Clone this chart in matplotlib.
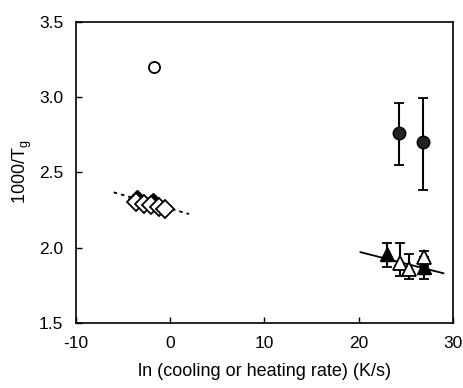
import matplotlib
matplotlib.use("Agg")
import matplotlib.pyplot as plt
import numpy as np

plt.rcParams['font.family'] = ['Liberation Sans', 'DejaVu Sans']
plt.rcParams['axes.unicode_minus'] = False

# Data
open_circle_x = [-1.7]
open_circle_y = [3.20]

filled_circle_x = [24.3, 26.8]
filled_circle_y = [2.76, 2.70]
filled_circle_err_lo = [0.215, 0.315]
filled_circle_err_hi = [0.20, 0.29]

filled_diamond_x = [-3.5, -1.8]
filled_diamond_y = [2.325, 2.305]
open_diamond_x = [-3.6, -2.8, -2.0, -1.2, -0.5]
open_diamond_y = [2.30, 2.29, 2.28, 2.27, 2.255]

filled_tri_x = [23.0, 26.9]
filled_tri_y = [1.96, 1.87]
filled_tri_err_lo = [0.09, 0.08]
filled_tri_err_hi = [0.07, 0.07]
open_tri_x = [24.4, 25.4, 26.9]
open_tri_y = [1.90, 1.86, 1.94]
open_tri_err_lo = [0.09, 0.07, 0.06]
open_tri_err_hi = [0.13, 0.10, 0.035]

dotted_fit_x = [-6.0, 2.0]
dotted_fit_y = [2.367, 2.223]
solid_fit_x = [20.2, 29.0]
solid_fit_y = [1.97, 1.83]

xticks = [-10, 0, 10, 20, 30]
yticks = [1.5, 2.0, 2.5, 3.0, 3.5]

fig = plt.figure(figsize=(4.63, 3.88), dpi=100)
ax = fig.add_axes([0.164, 0.1675, 0.814, 0.777])

ax.plot(dotted_fit_x, dotted_fit_y, color='black', lw=1.3, ls=(0, (2, 2.2)), zorder=2)
ax.plot(solid_fit_x, solid_fit_y, color='black', lw=1.3, ls='-', zorder=2)

ax.plot(open_circle_x, open_circle_y, 'o', ms=8, mfc='white', mec='black', mew=1.3, zorder=3)

ax.errorbar(filled_circle_x, filled_circle_y, yerr=[filled_circle_err_lo, filled_circle_err_hi],
            fmt='o', ms=9, mfc='#222222', mec='black', ecolor='black', elinewidth=1.5,
            capsize=3.6, capthick=1.3, zorder=3)

ax.plot(filled_diamond_x, filled_diamond_y, 'D', ms=9, mfc='black', mec='black', zorder=3)
ax.plot(open_diamond_x, open_diamond_y, 'D', ms=9, mfc='white', mec='black', mew=1.3, zorder=4)

ax.errorbar(filled_tri_x, filled_tri_y, yerr=[filled_tri_err_lo, filled_tri_err_hi],
            fmt='^', ms=10, mfc='black', mec='black', ecolor='black', elinewidth=1.5,
            capsize=3.6, capthick=1.3, zorder=3)
ax.errorbar(open_tri_x, open_tri_y, yerr=[open_tri_err_lo, open_tri_err_hi],
            fmt='^', ms=10, mfc='white', mec='black', mew=1.3, ecolor='black', elinewidth=1.5,
            capsize=3.6, capthick=1.3, zorder=4)

ax.set_xlim(-10, 30)
ax.set_ylim(1.5, 3.5)
ax.set_xticks(xticks)
ax.set_yticks(yticks)
ax.set_yticklabels([f"{v:.1f}" for v in yticks])
ax.tick_params(direction='in', length=4, width=1, labelsize=12.5, pad=9)
for s in ax.spines.values():
    s.set_linewidth(1.2)

ax.set_xlabel('ln (cooling or heating rate) (K/s)', fontsize=13, labelpad=9)
ax.set_ylabel('1000/T$_\\mathregular{g}$', fontsize=13, labelpad=4)

fig.savefig('out.png', dpi=100)
